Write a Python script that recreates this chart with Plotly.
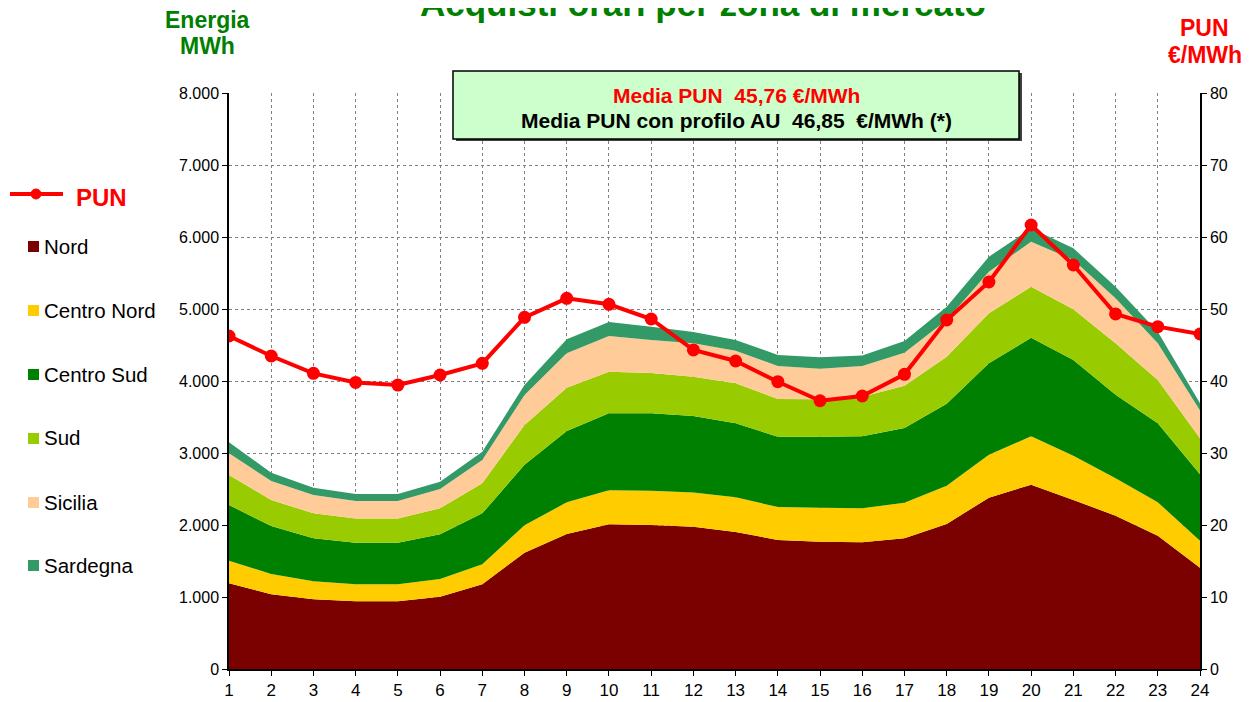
import plotly.graph_objects as go

hours = list(range(1, 25))
nord = [1190, 1037, 968, 940, 940, 1004, 1176, 1616, 1875, 2009, 2000, 1977,
        1903, 1792, 1768, 1759, 1815, 2014, 2380, 2560, 2347, 2130, 1852, 1407]
centro_nord = [314, 282, 250, 236, 236, 246, 278, 379, 440, 472, 477, 473,
               481, 458, 473, 472, 495, 532, 596, 671, 615, 518, 463, 375]
centro_sud = [774, 667, 597, 579, 579, 620, 708, 843, 991, 1070, 1074, 1064,
              1028, 976, 985, 1000, 1037, 1139, 1269, 1370, 1330, 1162, 1097, 922]
sud = [416, 361, 347, 337, 337, 361, 417, 551, 601, 578, 559, 546,
       556, 524, 519, 551, 588, 652, 695, 709, 703, 713, 602, 500]
sicilia = [301, 264, 255, 241, 241, 269, 324, 417, 477, 496, 459, 463,
           453, 458, 426, 426, 458, 510, 578, 625, 686, 625, 509, 386]
sardegna = [153, 116, 101, 98, 98, 102, 116, 138, 195, 194, 186, 158,
            150, 153, 158, 145, 162, 185, 209, 185, 162, 162, 162, 100]
pun = [46.25, 43.47, 41.06, 39.8, 39.44, 40.83, 42.45, 48.84, 51.48, 50.65, 48.61, 44.31,
       42.78, 39.9, 37.26, 37.92, 40.93, 48.47, 53.75, 61.67, 56.11, 49.31, 47.55, 46.53]

zones = ["Nord", "Centro Nord", "Centro Sud", "Sud", "Sicilia", "Sardegna"]
zone_values = [nord, centro_nord, centro_sud, sud, sicilia, sardegna]
zone_colors = ["#7B0000", "#FFCC00", "#008000", "#99CC00", "#FFCC99", "#339966"]

title_text = "Acquisti orari per zona di mercato"
box_line1 = "Media PUN&nbsp; 45,76 €/MWh"
box_line2 = "Media PUN con profilo AU&nbsp; 46,85&nbsp; €/MWh (*)"

FONT = "Arial, Liberation Sans, sans-serif"
OFF = 8  # page body margin
W, H = 1251, 702
L, T = 229 - OFF, 93 - OFF
PW, PH = 971, 576
R = W - L - PW
B = H - T - PH


def px(x):
    # screen pixel -> paper
    return (x - OFF - L) / PW


def py(y):
    return (T + PH - (y - OFF)) / PH


fig = go.Figure()
for name, vals, col in zip(zones, zone_values, zone_colors):
    fig.add_trace(go.Scatter(x=hours, y=vals, name=name, stackgroup="zone",
                             mode="lines", line=dict(width=0, color=col),
                             fillcolor=col, yaxis="y", showlegend=False))

fig.add_trace(go.Scatter(x=hours, y=pun, name="PUN", mode="lines+markers",
                         line=dict(color="#FF0000", width=4),
                         marker=dict(color="#FF0000", size=13),
                         yaxis="y2", showlegend=False))

grid = dict(showgrid=True, gridcolor="#808080", gridwidth=1, griddash="dot")

fig.update_layout(
    width=W, height=H,
    margin=dict(l=L, r=R, t=T, b=B, autoexpand=False),
    paper_bgcolor="white", plot_bgcolor="white",
    separators=",.",
    showlegend=False,
    font=dict(family=FONT, color="black", size=16),
    xaxis=dict(range=[1, 24], tickmode="linear", dtick=1, tick0=1, automargin=False,
               showline=True, linecolor="black", linewidth=1.5,
               ticks="outside", ticklen=5, tickcolor="black",
               tickfont=dict(size=17), zeroline=False, **grid),
    yaxis=dict(range=[0, 8000], dtick=1000, tickformat=",d", automargin=False,
               showline=True, linecolor="black", linewidth=1.5,
               ticks="outside", ticklen=5, tickcolor="black",
               tickfont=dict(size=16), zeroline=False, **grid),
    yaxis2=dict(range=[0, 80], dtick=10, overlaying="y", side="right", automargin=False,
                showline=True, linecolor="black", linewidth=1.5,
                ticks="outside", ticklen=5, tickcolor="black",
                tickfont=dict(size=16), showgrid=False, zeroline=False),
)

shapes = []
annotations = []


def ann(text, x, y, size, color, xanchor="center", yanchor="middle"):
    annotations.append(dict(text=text, x=px(x), y=py(y), xref="paper", yref="paper",
                            xanchor=xanchor, yanchor=yanchor, showarrow=False,
                            font=dict(size=size, color=color, family=FONT)))


# Title (cut off at top)
ann("<b>" + title_text + "</b>", 703, 25, 35, "#008000", yanchor="bottom")
# Axis titles
ann("<b>Energia</b>", 207, 20, 23, "#008000")
ann("<b>MWh</b>", 207, 46, 23, "#008000")
ann("<b>PUN</b>", 1204, 28, 23, "#FF0000")
ann("<b>€/MWh</b>", 1205, 55, 23, "#FF0000")

# Info box
shapes.append(dict(type="rect", xref="paper", yref="paper",
                   x0=px(456), x1=px(1022), y0=py(141), y1=py(73),
                   fillcolor="#404040", line=dict(width=0), layer="above"))
shapes.append(dict(type="rect", xref="paper", yref="paper",
                   x0=px(453), x1=px(1019), y0=py(139), y1=py(71),
                   fillcolor="#CCFFCC", line=dict(color="black", width=1.5), layer="above"))
ann("<b>" + box_line1 + "</b>", 736, 95, 21, "#FF0000")
ann("<b>" + box_line2 + "</b>", 736, 120, 21, "black")

# Custom legend
shapes.append(dict(type="line", xref="paper", yref="paper",
                   x0=px(10), x1=px(63), y0=py(194), y1=py(194),
                   line=dict(color="#FF0000", width=4)))
shapes.append(dict(type="circle", xref="paper", yref="paper",
                   x0=px(31), x1=px(41), y0=py(199), y1=py(189),
                   fillcolor="#FF0000", line=dict(color="#FF0000", width=1)))
ann("<b>PUN</b>", 74, 198, 24, "#FF0000", xanchor="left")
leg_y = [246, 310, 374, 438, 502, 565]
for name, col, yy in zip(zones, zone_colors, leg_y):
    shapes.append(dict(type="rect", xref="paper", yref="paper",
                       x0=px(28), x1=px(39), y0=py(yy + 6), y1=py(yy - 5),
                       fillcolor=col, line=dict(width=0)))
    ann(name, 42, yy, 20.5, "black", xanchor="left")

fig.update_layout(shapes=shapes, annotations=annotations)
fig.write_html("out.html")
